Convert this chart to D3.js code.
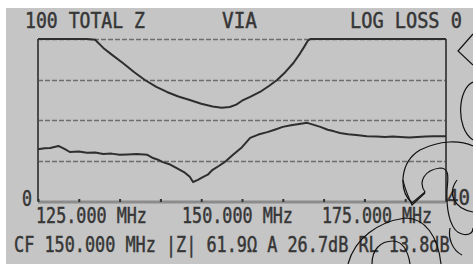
<!DOCTYPE html>
<html>
<head>
<meta charset="utf-8">
<script src="https://cdn.jsdelivr.net/npm/d3@7"></script>
<style>
  body { margin: 0; background: #fff; }
  svg { display: block; }
  .lcd { font-family: 'DejaVu Sans Mono', monospace; font-size: 21px; fill: #363636; stroke: #363636; stroke-width: 0.5; }
</style>
</head>
<body>
<div id="d3-target"></div>
<script>
// sweep: 125 - 175 MHz, CF 150
const freqRange = [125, 175];
const freqTicks = [125, 130, 135, 140, 145, 150, 155, 160, 165, 170, 175];
const freqLabels = [125, 150, 175];

// TOTAL Z trace (0 - 100 ohm, clipped at top)
const zFreq = [125, 128, 131, 132, 133, 134, 135.4, 136.8, 138.1, 139.5, 140.8, 142.2, 143.6, 145, 146.4,
  147.5, 148.5, 149.3, 150, 151, 152.2, 153.3, 154.3, 155.3, 156.3, 157.1, 157.6, 158.1, 158.4, 162, 166, 170, 175];
const zVal = [100, 100, 100, 99.5, 94.5, 90.5, 85.2, 79.5, 74.7, 70.5, 67.3, 64.5, 62.3, 60, 58.3,
  57.6, 58, 59.5, 61.9, 64.3, 67.3, 71, 74.7, 79.5, 85.2, 91, 95, 99.2, 100, 100, 100, 100, 100];

// LOG LOSS trace (0 dB top, 40 dB bottom)
const lossFreq = [125, 125.8, 126.5, 127.5, 128.3, 128.9, 130, 131, 132, 133, 134, 135, 136, 137.1, 138.4,
  139.1, 139.7, 140.3, 141.2, 142, 143, 143.6, 144, 144.6, 145.2, 145.8, 146.4, 147.2, 148, 148.9, 150,
  151, 152, 153.1, 154, 155, 156, 157, 158, 158.8, 159.6, 160.5, 161.3, 162, 163, 164, 165.3, 166.5,
  167.5, 168.5, 169.4, 170.5, 171.5, 172.5, 173.5, 174.3, 175];
const lossVal = [27.2, 27.0, 26.9, 26.4, 27.2, 27.9, 27.8, 28.1, 28.0, 28.4, 28.3, 28.6, 28.5, 28.4, 28.6,
  29.4, 29.8, 30.4, 31.0, 31.9, 33.0, 34.0, 35.3, 34.8, 34.1, 33.5, 32.3, 31.3, 30.2, 28.6, 26.7,
  24.4, 23.6, 23.0, 22.4, 21.7, 21.3, 21.0, 20.7, 21.2, 21.7, 22.4, 22.8, 23.2, 23.5, 23.7, 24.0, 24.1,
  24.2, 24.1, 24.2, 24.3, 24.2, 24.1, 24.0, 24.0, 24.0];

const zDomain = [0, 100];
const lossDomain = [0, 40];
const gridLoss = [0, 10, 20, 30];

const W = 473, H = 264;
const plot = {left: 38, right: 446, top: 39, bottom: 201};

const x = d3.scaleLinear().domain(freqRange).range([plot.left, plot.right]);
const yZ = d3.scaleLinear().domain(zDomain).range([plot.bottom, plot.top]).clamp(true);
const yL = d3.scaleLinear().domain(lossDomain).range([plot.top, plot.bottom]).clamp(true);

const svg = d3.select('#d3-target').append('svg')
  .attr('width', W).attr('height', H);

svg.append('rect').attr('x', 6).attr('y', 8).attr('width', W - 6).attr('height', H - 8).attr('fill', '#c5c5c5');

// dashed grid
svg.append('g').selectAll('line')
  .data(gridLoss)
  .enter().append('line')
    .attr('x1', plot.left).attr('x2', plot.right)
    .attr('y1', d => Math.round(yL(d)) + 0.5).attr('y2', d => Math.round(yL(d)) + 0.5)
    .attr('stroke', '#6e6e6e').attr('stroke-width', 1.5)
    .attr('stroke-dasharray', '5,2');

// frame sides
[plot.left, plot.right].forEach(px => {
  svg.append('line')
    .attr('x1', px).attr('x2', px).attr('y1', plot.top).attr('y2', plot.bottom)
    .attr('stroke', '#4a4a4a').attr('stroke-width', 2);
});

// x axis
const xAxis = d3.axisBottom(x).tickValues(freqTicks).tickSize(-3).tickFormat('');
const ax = svg.append('g').attr('transform', `translate(0,${plot.bottom + 1})`).call(xAxis);
ax.select('.domain').attr('stroke', '#8c8c8c').attr('stroke-width', 3).attr('d', `M${plot.left},0H${plot.right}`);
ax.selectAll('.tick line').attr('stroke', '#333').attr('stroke-width', 2);

// traces
const zLine = d3.line().x((d, i) => x(zFreq[i])).y(d => yZ(d));
const lLine = d3.line().x((d, i) => x(lossFreq[i])).y(d => yL(d));

svg.append('path').attr('d', zLine(zVal))
  .attr('fill', 'none').attr('stroke', '#2e2e2e').attr('stroke-width', 2).attr('stroke-linejoin', 'round');
svg.append('path').attr('d', lLine(lossVal))
  .attr('fill', 'none').attr('stroke', '#2e2e2e').attr('stroke-width', 2).attr('stroke-linejoin', 'round');

// text, LCD style: squeeze each string to the width it has on the screen
const txt = (s, px, py, len) => {
  const t = svg.append('text').attr('class', 'lcd').text(s);
  const natural = t.node().getComputedTextLength();
  t.attr('transform', `translate(${px},${py}) scale(${len / natural},1)`);
  return t;
};

txt(`${zDomain[1]} TOTAL Z`, 25, 28, 120);
txt('VIA', 222, 28, 35);
txt(`LOG LOSS ${lossDomain[0]}`, 350, 28, 112);
txt(`${zDomain[0]}`, 22, 206, 10);
txt(`${lossDomain[1]}`, 447, 205, 23);

const fmt = d3.format('.3f');
txt(`${fmt(freqLabels[0])} MHz`, x(freqLabels[0]) - 2, 223, 111);
txt(`${fmt(freqLabels[1])} MHz`, x(freqLabels[1]) - 60, 223, 111);
txt(`${fmt(freqLabels[2])} MHz`, x(freqLabels[2]) - 124, 223, 110);

txt('CF 150.000 MHz |Z| 61.9\u03a9 A 26.7dB RL 13.8dB', 14, 252, 436);

// watermark outline
const wm = svg.append('g').attr('fill', 'none').attr('stroke', '#111').attr('stroke-width', 1.2);
wm.append('path').attr('d', 'M473,34 L458,51 L473,65');
wm.append('path').attr('d', 'M473,82 C458,88 455,128 473,140');
wm.append('path').attr('d', 'M473,146 C460,140 440,140 420,150 C400,162 398,190 412,203 L425,192 C418,182 424,170 440,168 C450,168 448,178 447,190 C446,215 452,232 462,234 C470,236 473,232 473,228');
wm.append('path').attr('d', 'M403,180 C405,190 409,198 412,205 L425,193');
wm.append('path').attr('d', 'M457,180 C448,192 452,208 473,212');
wm.append('path').attr('d', 'M348,264 C355,238 378,222 405,218 C425,218 438,236 441,264');
wm.append('path').attr('d', 'M372,264 C372,250 380,241 393,241 C402,241 408,250 410,264');
wm.append('path').attr('d', 'M450,228 C448,238 452,250 462,255');
</script>
</body>
</html>
